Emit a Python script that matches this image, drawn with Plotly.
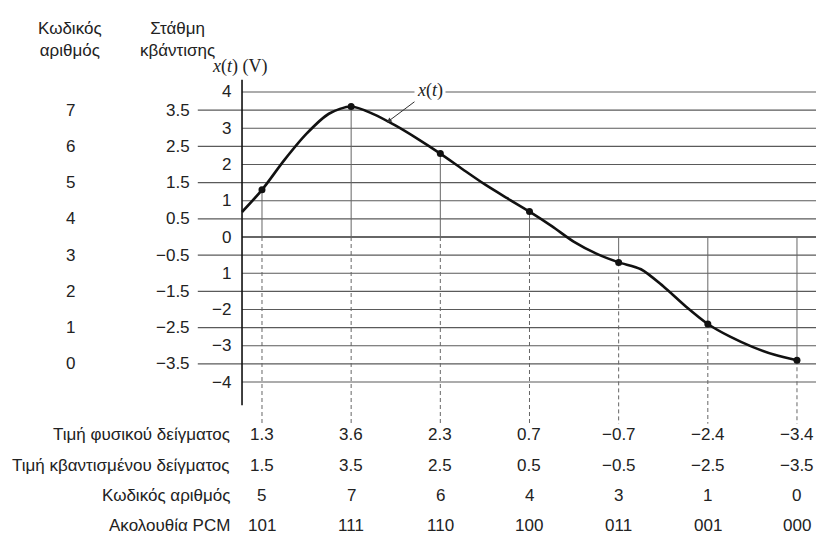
import plotly.graph_objects as go

# ---------------- data ----------------
sample_t = [1, 2, 3, 4, 5, 6, 7]
sample_values = [1.3, 3.6, 2.3, 0.7, -0.7, -2.4, -3.4]
quantized_values = [1.5, 3.5, 2.5, 0.5, -0.5, -2.5, -3.5]
sample_codes = ["5", "7", "6", "4", "3", "1", "0"]
pcm_codes = ["101", "111", "110", "100", "011", "001", "000"]

quant_levels = [3.5, 2.5, 1.5, 0.5, -0.5, -1.5, -2.5, -3.5]
quant_level_labels = ["3.5", "2.5", "1.5", "0.5", "−0.5", "−1.5", "−2.5", "−3.5"]
level_codes = ["7", "6", "5", "4", "3", "2", "1", "0"]

int_ticks = [4, 3, 2, 1, 0, -1, -2, -3, -4]
int_tick_labels = ["4", "3", "2", "1", "0", "1", "−2", "−3", "−4"]

# continuous signal x(t)
curve_t = [0.776, 1.0, 1.25, 1.5, 1.75, 2.0, 2.25, 2.5, 2.75, 3.0, 3.25, 3.5,
           3.75, 4.0, 4.25, 4.5, 4.75, 5.0, 5.25, 5.5, 5.75, 6.0, 6.25, 6.5,
           6.75, 7.0]
curve_v = [0.69, 1.3, 2.12, 2.85, 3.40, 3.6, 3.39, 3.07, 2.70, 2.3, 1.87, 1.45,
           1.07, 0.7, 0.30, -0.135, -0.46, -0.7, -0.89, -1.36, -1.91, -2.4, -2.75, -3.03,
           -3.25, -3.4]

row_titles = ["Τιμή φυσικού δείγματος", "Τιμή κβαντισμένου δείγματος",
              "Κωδικός αριθμός", "Ακολουθία PCM"]

# ---------------- layout constants ----------------
T_AXIS = 0.776       # position of the vertical axis (signal start)
T_LEVEL_START = 0.28
T_END = 7.28
V_AXIS_TOP, V_AXIS_BOTTOM = 4.34, -4.64
V_DASH_BOTTOM = -5.15
# page body has an 8px margin: figure is 816x528 placed at (8, 8)
X_RANGE = [-1.8485, 7.303]
Y_RANGE = [-8.248, 6.317]
T_INT_LABEL = 0.675
T_HALF_LABEL = 0.215
T_CODE_COL = -1.153
T_QUANT_HEAD = 0.058
ROW_V = [-5.46, -6.29, -7.12, -7.97]

FONT = "Liberation Sans, Arial, sans-serif"
SERIF = "Liberation Serif, Times New Roman, serif"
TXT = "#222222"
LINE = "#5a5a5a"
FS = 17

fig = go.Figure()

# integer grid lines (from the axis)
xs, ys = [], []
for v in int_ticks:
    if v == 0:
        continue
    xs += [T_AXIS, T_END, None]
    ys += [v, v, None]
fig.add_trace(go.Scatter(x=xs, y=ys, mode="lines", line=dict(color=LINE, width=1.1),
                         hoverinfo="skip", showlegend=False))
# zero line
fig.add_trace(go.Scatter(x=[T_AXIS, T_END], y=[0, 0], mode="lines",
                         line=dict(color="#333333", width=1.6),
                         hoverinfo="skip", showlegend=False))
# quantization level lines
xs, ys = [], []
for v in quant_levels:
    xs += [T_LEVEL_START, T_END, None]
    ys += [v, v, None]
fig.add_trace(go.Scatter(x=xs, y=ys, mode="lines", line=dict(color=LINE, width=1.1),
                         hoverinfo="skip", showlegend=False))

# solid verticals between zero and the sample
xs, ys = [], []
for t, v in zip(sample_t, sample_values):
    xs += [t, t, None]
    ys += [0, v, None]
fig.add_trace(go.Scatter(x=xs, y=ys, mode="lines", line=dict(color="#666666", width=1),
                         hoverinfo="skip", showlegend=False))
# dashed verticals below
xs, ys = [], []
for t, v in zip(sample_t, sample_values):
    xs += [t, t, None]
    ys += [min(0, v), V_DASH_BOTTOM, None]
fig.add_trace(go.Scatter(x=xs, y=ys, mode="lines",
                         line=dict(color="#666666", width=1, dash="4px,3px"),
                         hoverinfo="skip", showlegend=False))

# vertical axis
fig.add_trace(go.Scatter(x=[T_AXIS, T_AXIS], y=[V_AXIS_TOP, V_AXIS_BOTTOM], mode="lines",
                         line=dict(color="#111111", width=1.6),
                         hoverinfo="skip", showlegend=False))

# signal curve
fig.add_trace(go.Scatter(x=curve_t, y=curve_v, mode="lines",
                         line=dict(color="#111111", width=2.6, shape="spline", smoothing=0.8),
                         hoverinfo="skip", showlegend=False))
# samples
fig.add_trace(go.Scatter(x=sample_t, y=sample_values, mode="markers",
                         marker=dict(color="#111111", size=7),
                         hoverinfo="skip", showlegend=False))

ann = []
def text(x, y, s, xanchor="center", size=FS, family=FONT):
    ann.append(dict(x=x, y=y, xref="x", yref="y", text=s, showarrow=False,
                    xanchor=xanchor, yanchor="middle",
                    font=dict(family=family, size=size, color=TXT)))

for v, lab in zip(int_ticks, int_tick_labels):
    text(T_INT_LABEL, v, lab, xanchor="right")
for v, lab, code in zip(quant_levels, quant_level_labels, level_codes):
    text(T_HALF_LABEL, v, lab, xanchor="right")
    text(T_CODE_COL, v, code)

text(T_CODE_COL, 5.46, "Κωδικός<br>αριθμός")
text(T_QUANT_HEAD, 5.46, "Στάθμη<br>κβάντισης")
text(0.753, 4.69, "<i>x</i>(<i>t</i>) (V)", family=SERIF, size=18)

rows = [[f"{v}".replace("-", "−") for v in sample_values],
        [f"{v}".replace("-", "−") for v in quantized_values],
        sample_codes, pcm_codes]
for rv, title, vals in zip(ROW_V, row_titles, rows):
    text(0.664, rv, title, xanchor="right")
    for t, s in zip(sample_t, vals):
        text(t, rv, s)

# x(t) label with arrow
ann.append(dict(x=2.40, y=3.16, xref="x", yref="y", ax=2.884, ay=4.05,
                axref="x", ayref="y", text="<i>x</i>(<i>t</i>)", showarrow=True,
                arrowhead=2, arrowsize=1, arrowwidth=1, arrowcolor="#333333",
                bgcolor="white", borderpad=2,
                font=dict(family=SERIF, size=18, color=TXT)))

fig.update_layout(
    width=816, height=528,
    margin=dict(l=0, r=0, t=0, b=0),
    paper_bgcolor="white", plot_bgcolor="white",
    xaxis=dict(range=X_RANGE, visible=False, fixedrange=True),
    yaxis=dict(range=Y_RANGE, visible=False, fixedrange=True),
    annotations=ann,
    showlegend=False,
)

fig.write_html("out.html")
